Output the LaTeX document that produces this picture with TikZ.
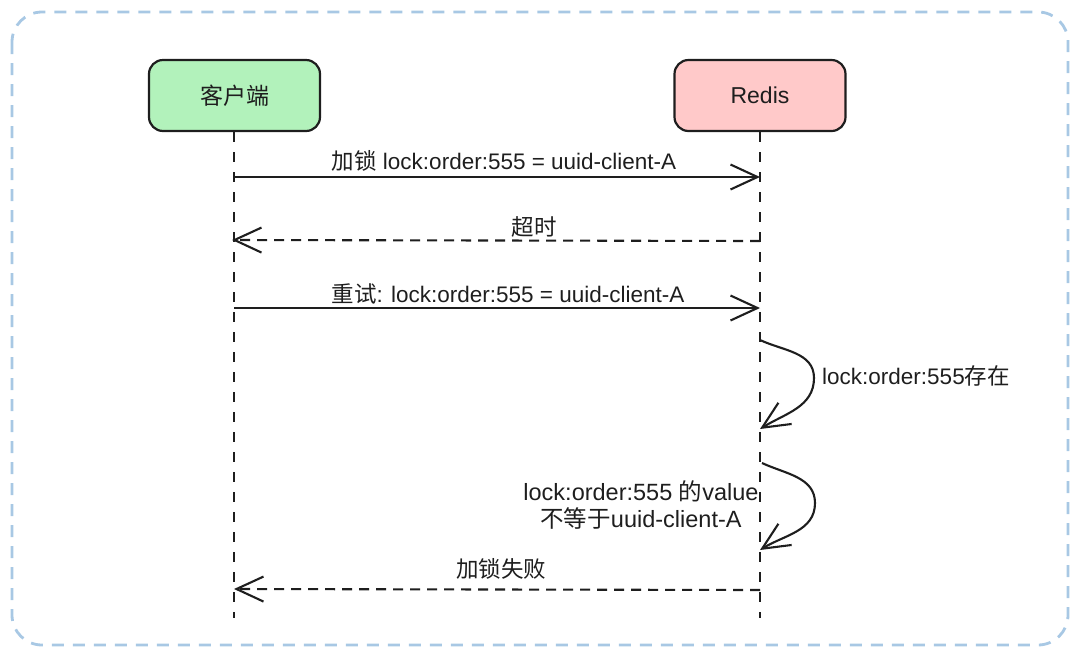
\documentclass[tikz,border=0pt]{standalone}
\usepackage{fontspec}
\setmainfont{Liberation Sans}
\newfontfamily\cjk{Noto Sans CJK SC}
\usetikzlibrary{arrows.meta}
\definecolor{ink}{HTML}{1E1E1E}
\definecolor{frameblue}{RGB}{168,200,228}
\definecolor{boxgreen}{HTML}{B2F2BB}
\definecolor{boxred}{HTML}{FFC9C9}
\tikzset{
  actor/.style={draw=ink, line width=2.2pt, rounded corners=14pt, minimum width=171pt, minimum height=71pt, font=\fontsize{23}{27}\selectfont, text=ink},
  lifeline/.style={draw=ink, line width=2.3pt, dash pattern=on 10pt off 10pt},
  msg/.style={draw=ink, line width=2.1pt, -{Straight Barb[length=27pt,width=25pt,line width=2.1pt]}},
  reply/.style={msg, dash pattern=on 10pt off 7pt},
  lbl/.style={font=\fontsize{22.5}{27}\selectfont, text=ink, inner sep=0pt},
  lblwide/.style={font=\fontsize{23.5}{27}\selectfont, text=ink, inner sep=0pt},
}
\begin{document}
\begin{tikzpicture}[x=1pt,y=-1pt]
\useasboundingbox (0,0) rectangle (1080,657);
\draw[frameblue, line width=2.8pt, dash pattern=on 12pt off 9pt, rounded corners=30pt] (12,12) rectangle (1068,645);

\node[actor, fill=boxgreen] (client) at (234.5,95.5) {\cjk 客户端};
\node[actor, fill=boxred] (redis) at (760,95.5) {Redis};

\coordinate (cEnd) at (234,618);
\coordinate (rEnd) at (760,618);
\draw[lifeline] (client.south -| cEnd) -- (cEnd);
\draw[lifeline] (redis.south -| rEnd) -- (rEnd);

\coordinate (c1) at (234,177); \coordinate (r1) at (760,177);
\coordinate (c2) at (232,240); \coordinate (r2) at (760,241);
\coordinate (c3) at (234,308); \coordinate (r3) at (760,308);
\coordinate (c4) at (234,589); \coordinate (r4) at (760,590);

\draw[msg] (c1) -- (r1);
\node[lbl] (l1) at (504,161) {{\cjk 加锁} lock:order:555 = uuid-client-A};

\draw[reply] (r2) -- (c2);
\node[lbl] (l2) at (534,227) {\cjk 超时};

\draw[msg] (c3) -- (r3);
\node[lbl] (l3) at (508,294) {{\cjk 重试}: lock:order:555 = uuid-client-A};

\coordinate (s1a) at (760,340); \coordinate (s1b) at (814,378); \coordinate (s1c) at (760,429);
\draw[msg] (s1a) to[out=-25,in=90] (s1b) to[out=-90,in=32] (s1c);
\node[lbl, anchor=west] (l5) at (822,376) {lock:order:555{\cjk 存在}};

\coordinate (s2a) at (762,463); \coordinate (s2b) at (815,503); \coordinate (s2c) at (760,550);
\draw[msg] (s2a) to[out=-25,in=90] (s2b) to[out=-90,in=32] (s2c);
\node[lblwide, align=center] (l6) at (641,505) {lock:order:555 {\cjk 的}value\\[0pt]{\cjk 不等于}uuid-client-A};

\draw[reply] (r4) -- (c4);
\node[lbl] (l4) at (501,569) {\cjk 加锁失败};
\end{tikzpicture}
\end{document}
